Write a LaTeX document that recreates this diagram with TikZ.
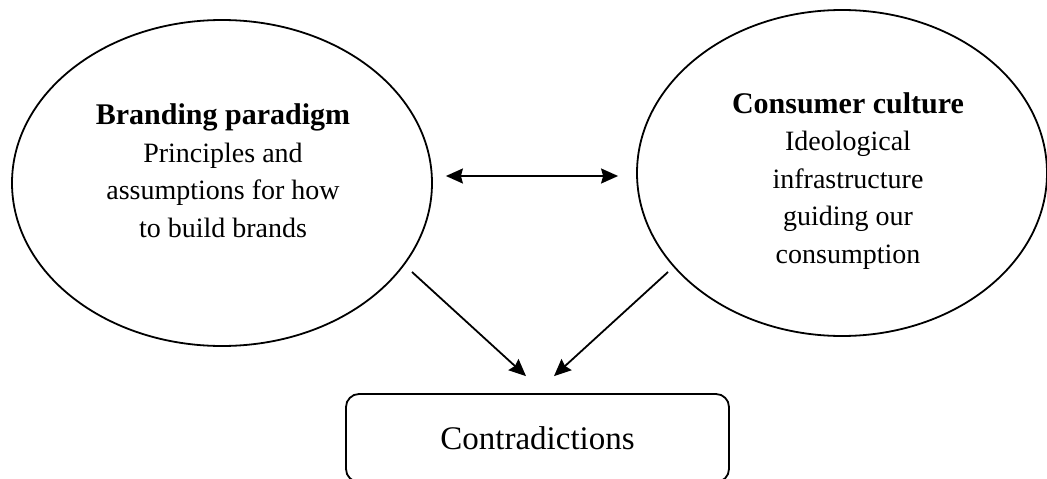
\documentclass[tikz,border=0pt]{standalone}
\usepackage{fontspec}
\setmainfont{Liberation Serif}
\usetikzlibrary{shapes.geometric,arrows.meta,calc}
\begin{document}
\begin{tikzpicture}[x=1pt,y=-1pt,
  bubble/.style={draw,ellipse,line width=1.8pt,inner sep=0pt},
  body/.style={align=center,inner sep=0pt,font={\fontsize{28}{37.5}\selectfont}},
  outcome/.style={draw,rounded corners=13pt,line width=1.8pt,inner sep=0pt,
    minimum width=383pt,minimum height=88pt,font={\fontsize{33}{40}\selectfont}},
  link/.style={line width=1.8pt,-{Stealth[length=17pt,width=15pt,inset=2pt]}},
  dlink/.style={line width=1.8pt,{Stealth[length=17pt,width=15pt,inset=2pt]}-{Stealth[length=17pt,width=15pt,inset=2pt]}}]
\useasboundingbox (0,0) rectangle (1047,479);
\node[bubble,minimum width=420pt,minimum height=326pt] (L) at (222,183) {};
\node[bubble,minimum width=410pt,minimum height=326pt] (R) at (842,173) {};
\node[outcome] (C) at (537.5,438) {Contradictions};
\node[body,anchor=base] (Lt) at (223,237) {{\fontsize{30}{37.5}\selectfont\bfseries Branding paradigm}\\Principles and\\assumptions for how\\to build brands};
\node[body,anchor=base] (Rt) at (848,263) {{\fontsize{30}{37.5}\selectfont\bfseries Consumer culture}\\Ideological\\infrastructure\\guiding our\\consumption};
\draw[dlink] ($(L.east)+(13,-7)$) -- ($(R.west)+(-18,3)$);
\draw[link] ($(L.center)+(190,89)$) -- ($(C.north)+(-11.5,-17)$);
\draw[link] ($(R.center)+(-174,99)$) -- ($(C.north)+(16.5,-17)$);
\end{tikzpicture}
\end{document}
